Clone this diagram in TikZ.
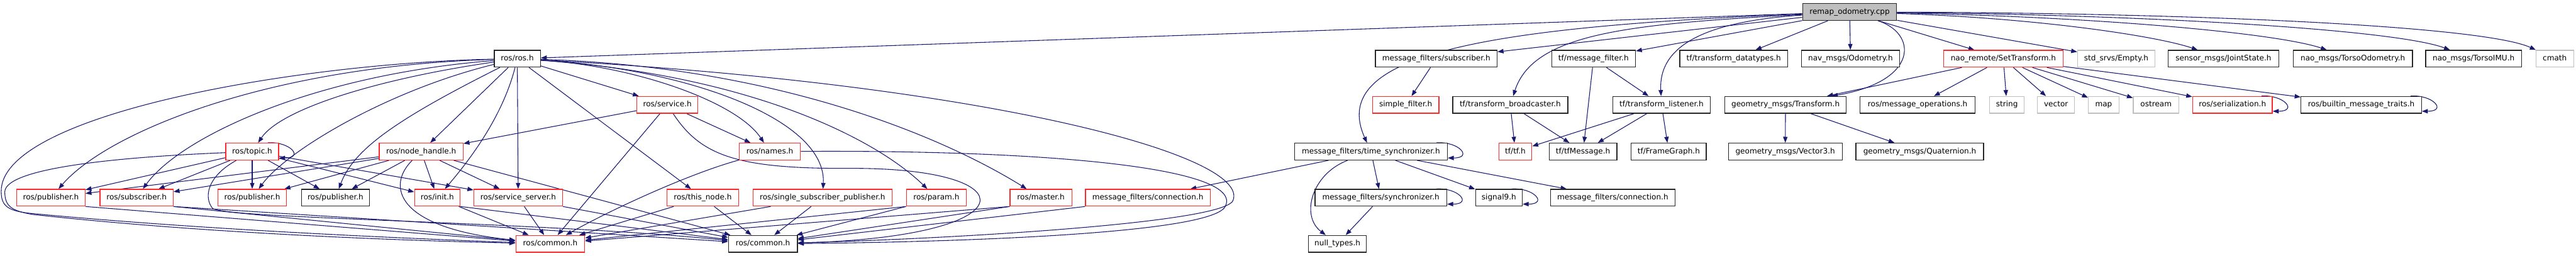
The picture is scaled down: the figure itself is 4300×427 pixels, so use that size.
\documentclass[tikz,border=0pt]{standalone}
\usepackage{fontspec}
\setmainfont{DejaVu Sans}
\usetikzlibrary{arrows.meta,calc}
\pgfdeclarelayer{bg}
\pgfsetlayers{bg,main}
\definecolor{edgec}{RGB}{25,25,112}
\definecolor{grayb}{RGB}{191,191,191}
\definecolor{redb}{RGB}{255,40,40}
\newcommand{\selfloop}[1]{\draw[dep] ([xshift=-14pt]#1.north east) .. controls ([xshift=14pt,yshift=2pt]#1.north east) and ([xshift=32pt,yshift=-8pt]#1.east) .. ([yshift=-8pt]#1.east);}
\begin{document}
\begin{tikzpicture}[x=0.75pt,y=-0.75pt,
  box/.style={draw, line width=1pt, minimum height=21pt, inner sep=0pt,
    font=\fontsize{9.5}{11}\selectfont, text height=7.2pt, text depth=2pt, fill=white},
  bw/.style={minimum width=#1*0.75pt},
  blk/.style={box, draw=black!85},
  trn/.style={box, draw=redb},
  sys/.style={box, draw=grayb},
  rootbox/.style={box, draw=black!85, fill=grayb},
  dep/.style={draw=edgec, line width=0.85pt, -{Triangle[length=7.5pt,width=5.5pt]}}]
\useasboundingbox (0,0) rectangle (4300,427);

% row 0
\node[rootbox,bw=157] (root) at (3087.5,20) {remap\_odometry.cpp};
% row 1
\node[blk,bw=77] (rosh) at (863.5,98) {ros/ros.h};
\node[blk,bw=203] (mfsub) at (2397.5,98) {message\_filters/subscriber.h};
\node[blk,bw=140] (tfmf) at (2660,98) {tf/message\_filter.h};
\node[blk,bw=180] (tftd) at (2894,98) {tf/transform\_datatypes.h};
\node[blk,bw=164] (navodom) at (3089,98) {nav\_msgs/Odometry.h};
\node[trn,bw=200] (setT) at (3344,98) {nao\_remote/SetTransform.h};
\node[sys,bw=129] (empty) at (3532.5,98) {std\_srvs/Empty.h};
\node[blk,bw=185] (joint) at (3711.5,98) {sensor\_msgs/JointState.h};
\node[blk,bw=199] (todom) at (3927.5,98) {nao\_msgs/TorsoOdometry.h};
\node[blk,bw=160] (timu) at (4129,98) {nao\_msgs/TorsoIMU.h};
\node[sys,bw=63] (cmath) at (4264.5,98) {cmath};
% row 2
\node[trn,bw=102] (service) at (1114,175) {ros/service.h};
\node[trn,bw=111] (simple) at (2346.5,175) {simple\_filter.h};
\node[blk,bw=192] (tfbc) at (2521,175) {tf/transform\_broadcaster.h};
\node[blk,bw=163] (tflis) at (2773.5,175) {tf/transform\_listener.h};
\node[blk,bw=203] (gtrans) at (2980.5,175) {geometry\_msgs/Transform.h};
\node[blk,bw=192] (msgops) at (3201,175) {ros/message\_operations.h};
\node[sys,bw=58] (string) at (3350,175) {string};
\node[sys,bw=62] (vector) at (3432,175) {vector};
\node[sys,bw=51] (map) at (3511.5,175) {map};
\node[sys,bw=76] (ostream) at (3599,175) {ostream};
\node[trn,bw=133] (serial) at (3726.5,175) {ros/serialization.h};
\node[blk,bw=201] (builtin) at (3941.5,175) {ros/builtin\_message\_traits.h};
% row 3
\node[trn,bw=88] (topic) at (421,253) {ros/topic.h};
\node[trn,bw=140] (nh) at (703,253) {ros/node\_handle.h};
\node[trn,bw=102] (names) at (1285,253) {ros/names.h};
\node[blk,bw=255] (timesync) at (2288.5,253) {message\_filters/time\_synchronizer.h};
\node[trn,bw=55] (tftf) at (2529.5,253) {tf/tf.h};
\node[blk,bw=113] (tfmsg) at (2642.5,253) {tf/tfMessage.h};
\node[blk,bw=125] (framegraph) at (2785.5,253) {tf/FrameGraph.h};
\node[blk,bw=190] (vec3) at (2980,253) {geometry\_msgs/Vector3.h};
\node[blk,bw=213] (quat) at (3204.5,253) {geometry\_msgs/Quaternion.h};
% row 4
\node[trn,bw=114] (pub1) at (85,330) {ros/publisher.h};
\node[trn,bw=122] (sub) at (228,330) {ros/subscriber.h};
\node[trn,bw=114] (pub2) at (421,330) {ros/publisher.h};
\node[blk,bw=114] (pub3) at (560,330) {ros/publisher.h};
\node[trn,bw=76] (init) at (730,330) {ros/init.h};
\node[trn,bw=148] (ssrv) at (865,330) {ros/service\_server.h};
\node[trn,bw=120] (thisnode) at (1173,330) {ros/this\_node.h};
\node[trn,bw=232] (ssp) at (1373,330) {ros/single\_subscriber\_publisher.h};
\node[trn,bw=100] (param) at (1563,330) {ros/param.h};
\node[trn,bw=103] (master) at (1737.5,330) {ros/master.h};
\node[trn,bw=208] (mfconn1) at (1916,330) {message\_filters/connection.h};
\node[blk,bw=220] (sync) at (2305,330) {message\_filters/synchronizer.h};
\node[blk,bw=78] (signal9) at (2502,330) {signal9.h};
\node[blk,bw=208] (mfconn2) at (2692,330) {message\_filters/connection.h};
% row 5
\node[trn,bw=115] (common1) at (918.5,407) {ros/common.h};
\node[blk,bw=115] (common2) at (1273.5,407) {ros/common.h};
\node[blk,bw=97] (nulltypes) at (2232.5,407) {null\_types.h};

\begin{pgfonlayer}{bg}
% root
\draw[dep] (root) -- (rosh);
\draw[dep] (root) -- (mfsub);
\draw[dep] (root) .. controls (2480,45) and (2215,90) .. (timesync);
\draw[dep] (root) -- (tfmf);
\draw[dep] (root) .. controls (2720,40) and (2560,55) .. (tfbc);
\draw[dep] (root) .. controls (2860,35) and (2768,70) .. (tflis);
\draw[dep] (root) -- (tftd);
\draw[dep] (root) -- (navodom);
\draw[dep] (root) .. controls (3200,55) and (3205,135) .. ($(gtrans.north east)+(-25,0)$);
\draw[dep] (root) -- (setT);
\draw[dep] (root) -- (empty);
\draw[dep] (root) .. controls (3400,30) and (3600,60) .. (joint);
\draw[dep] (root) .. controls (3500,28) and (3800,55) .. (todom);
\draw[dep] (root) .. controls (3600,25) and (4000,50) .. (timu);
\draw[dep] (root) .. controls (3700,22) and (4150,45) .. (cmath);
% SetTransform
\draw[dep] (setT) -- (gtrans);
\draw[dep] (setT) -- (msgops);
\draw[dep] (setT) -- (string);
\draw[dep] (setT) -- (vector);
\draw[dep] (setT) -- (map);
\draw[dep] (setT) -- (ostream);
\draw[dep] (setT) -- (serial);
\draw[dep] (setT) -- (builtin);
\selfloop{serial}
\selfloop{builtin}
\draw[dep] (gtrans) -- (vec3);
\draw[dep] (gtrans) -- (quat);
% tf / message_filters
\draw[dep] (mfsub) -- (simple);
\draw[dep] (tfmf) -- (tfmsg);
\draw[dep] (tfmf) -- (tflis);
\draw[dep] (tfbc) -- (tftf);
\draw[dep] (tfbc) -- (tfmsg);
\draw[dep] (tflis) -- (tftf);
\draw[dep] (tflis) -- (tfmsg);
\draw[dep] (tflis) -- (framegraph);
\selfloop{timesync}
\draw[dep] (timesync) -- (mfconn1);
\draw[dep] (timesync) .. controls (2190,290) and (2170,360) .. (nulltypes);
\draw[dep] (timesync) -- (sync);
\draw[dep] (timesync) -- (signal9);
\draw[dep] (timesync) -- (mfconn2);
\selfloop{sync}
\draw[dep] (sync) -- (nulltypes);
\selfloop{signal9}
% ros/ros.h
\draw[dep] (rosh) .. controls (640,130) and (470,180) .. (topic);
\draw[dep] (rosh) .. controls (450,110) and (180,220) .. (pub1);
\draw[dep] (rosh) .. controls (520,125) and (300,230) .. (sub);
\draw[dep] (rosh) .. controls (650,150) and (480,250) .. (pub2);
\draw[dep] (rosh) .. controls (660,200) and (590,250) .. (pub3);
\draw[dep] (rosh) -- (nh);
\draw[dep] (rosh) .. controls (840,190) and (790,260) .. (init);
\draw[dep] (rosh) -- (ssrv);
\draw[dep] (rosh) -- (service);
\draw[dep] (rosh) -- (thisnode);
\draw[dep] (rosh) .. controls (1060,110) and (1230,170) .. (names);
\draw[dep] (rosh) .. controls (1150,115) and (1380,200) .. (ssp);
\draw[dep] (rosh) .. controls (1250,125) and (1460,230) .. (param);
\draw[dep] (rosh) .. controls (1280,110) and (1560,220) .. (master);
\draw[dep] (rosh) .. controls (1650,140) and (2090,260) .. (2058,335) .. controls (2040,372) and (1600,398) .. (common2);
\draw[dep] (rosh) .. controls (500,105) and (0,190) .. (2,320) .. controls (2,345) and (15,352) .. (50,356) .. controls (300,380) and (600,395) .. (common1);
% ros/topic.h
\selfloop{topic}
\draw[dep] (topic) -- (pub1);
\draw[dep] (topic) -- (sub);
\draw[dep] (topic) -- (pub2);
\draw[dep] (topic) -- (pub3);
\draw[dep] (topic) -- (init);
\draw[dep] (topic) -- (ssrv);
\draw[dep] (topic) .. controls (345,295) and (340,330) .. (355,348) .. controls (380,365) and (900,370) .. (common2);
\draw[dep] (topic) .. controls (200,262) and (10,280) .. (8,320) .. controls (8,345) and (20,352) .. (55,358) .. controls (300,385) and (600,400) .. (common1);
% ros/node_handle.h
\draw[dep] (nh) -- (pub1);
\draw[dep] (nh) -- (sub);
\draw[dep] (nh) -- (pub2);
\draw[dep] (nh) -- (pub3);
\draw[dep] (nh) -- (init);
\draw[dep] (nh) -- (ssrv);
\draw[dep] (nh) .. controls (645,310) and (660,380) .. (common1);
\draw[dep] (nh) -- (common2);
% ros/service.h
\draw[dep] (service) -- (nh);
\draw[dep] (service) -- (common1);
\draw[dep] (service) -- (names);
\draw[dep] (service) .. controls (1170,260) and (1230,282) .. (1420,281) .. controls (1720,280) and (1720,395) .. (common2);
% ros/names.h
\draw[dep] (names) .. controls (1150,290) and (1020,350) .. (common1);
\draw[dep] (names) .. controls (1750,250) and (2080,280) .. (2045,345) .. controls (2020,390) and (1600,404) .. (common2);
% to ros/common.h
\draw[dep] (pub1.south east) -- (common1);
\draw[dep] (sub.south east) -- (common1);
\draw[dep] (sub.south east) -- (common2);
\draw[dep] (init) -- (common1);
\draw[dep] (init.south east) -- (common2);
\draw[dep] (ssrv) -- (common1);
\draw[dep] (ssrv.south east) -- (common2);
\draw[dep] (thisnode) -- (common1);
\draw[dep] (thisnode) -- (common2);
\draw[dep] (ssp) -- (common1);
\draw[dep] (ssp) -- (common2);
\draw[dep] (param.south west) -- (common1);
\draw[dep] (param.south west) -- (common2);
\draw[dep] (master.south west) -- (common1);
\draw[dep] (master.south west) -- (common2);
\draw[dep] (mfconn1.south west) -- (common2);
\end{pgfonlayer}
\end{tikzpicture}
\end{document}
